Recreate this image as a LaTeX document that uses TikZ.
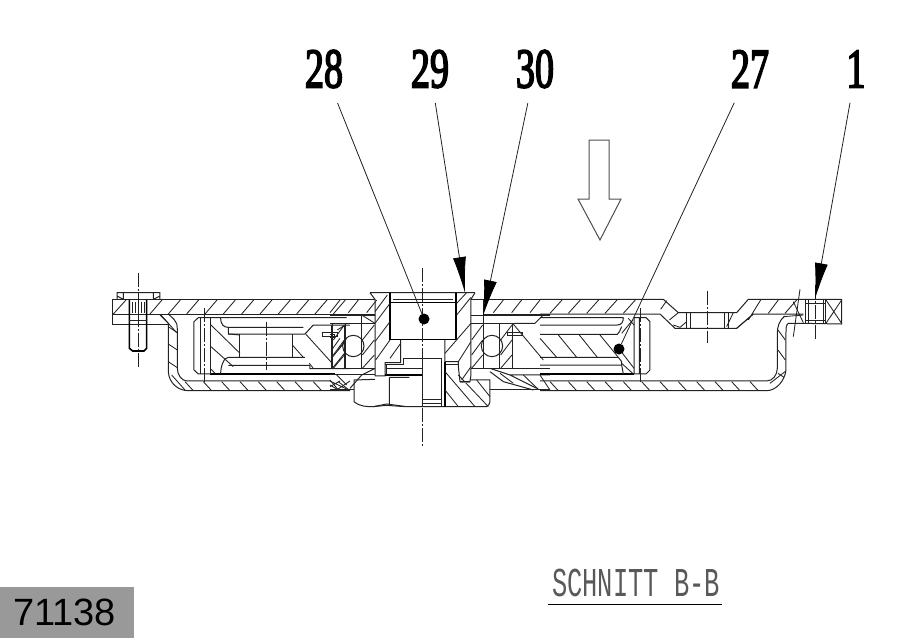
\documentclass[tikz,border=0pt]{standalone}
\usepackage{fontspec}
\usepackage{graphicx}
\usetikzlibrary{arrows.meta}
\newfontfamily\numfont[FakeBold=3.5]{Liberation Serif}
\newfontfamily\monofont{Liberation Mono}
\setmainfont{Liberation Sans}
\definecolor{ink}{HTML}{222222}
\tikzset{
 ln/.style={draw=ink,line width=1pt},
 thk/.style={draw=black,line width=1.6pt},
 hat/.style={draw=ink,line width=.85pt},
 cl/.style={draw=ink,line width=.7pt,dash pattern=on 14pt off 2pt on 2pt off 2pt},
 partno/.style={inner xsep=0pt,inner ysep=15pt,font=\numfont\fontsize{56}{56}\selectfont},
 lead/.style={draw=ink,line width=.8pt},
 leadarrow/.style={lead,-{Latex[length=36pt,width=13pt,black]}},
 dotnode/.style={circle,fill=black,inner sep=0pt,minimum size=11pt},
}
\begin{document}
\begin{tikzpicture}[x=1pt,y=-1pt]
\useasboundingbox (0,0) rectangle (909,638);
% LEFT PART
\begin{scope}[shift={(100,270)},x=.3333pt,y=-.3333pt]
 \draw[ln] (36,88)--(750,88) (36,132)--(750,132) (36,88)--(36,162)--(205,162);
 \draw[ln] (51,88)--(51,68)--(180,68)--(180,88) (51,78)--(70,88) (180,78)--(160,88) (70,68)--(70,88) (160,68)--(160,88);
 \draw[thk] (88,90)--(88,235)--(98,243)--(132,243)--(140,235)--(140,90);
 \draw[ln] (88,150)--(140,150);
 \foreach \x in {96,105,114,123,132} \draw[hat] (\x,95)--(\x,130);
 \draw[hat] (40,132)--(78,90);
 \draw[cl] (114,8)--(114,292);
 \foreach \x in {150,205,260,315,370,425,480,535,590,645,700} \draw[hat] (\x,132)--(\x+36,90);
 % tray wall
 \draw[ln] (180,135)--(205,160)--(205,305) .. controls (207,340) and (235,362) .. (265,362)--(750,362);
 \draw[ln] (205,132)--(222,148) .. controls (230,155) and (232,165) .. (232,180)--(232,295) .. controls (232,315) and (245,333) .. (262,333)--(690,333);
 \foreach \y in {170,222,275} \draw[hat] (205,\y)--(232,\y+18);
 \draw[hat] (183,135)--(230,188) (215,315)--(255,360);
 \foreach \x in {255,310,365,420,475,530,585,640} \draw[hat] (\x,335)--(\x+24,361);
 \draw[hat] (690,345)--(715,360) (715,335)--(750,362);
 % shell
 \draw[ln] (282,155)--(295,143)--(740,143) (282,155)--(282,300)--(295,312)--(705,312);
 \draw[thk] (330,312)--(705,312);
 \draw[ln] (302,143)--(302,312) (332,143)--(332,312);
 \draw[cl] (312,115)--(312,342);
 \draw[hat] (333,165)--(420,250) (333,230)--(400,290) (333,298)--(345,310);
 \draw[ln] (362,143) .. controls (362,165) and (372,172) .. (385,172)--(610,172) (385,192)--(615,192) (385,262)--(615,262) (385,286)--(630,286) (362,312) .. controls (362,288) and (372,262) .. (385,262);
 \draw[ln] (385,172)--(385,192) .. controls (400,192) and (410,195) .. (420,195);
 \draw[ln] (420,192)--(420,262) (577,192)--(577,262);
 \draw[cl] (498,155)--(498,300);
 \draw[hat] (577,225)--(610,262) (617,192)--(695,278) (628,280)--(640,295);
 \draw[ln] (615,192)--(640,165)--(750,165) (630,286)--(630,296)--(750,296);
 \draw[ln] (668,188)--(712,188)--(712,198)--(668,198)--cycle (695,165)--(695,296) (735,165)--(735,296);
 \foreach \x in {670,690} \draw[hat] (\x+25,240)--(\x+50,205);
 \draw[hat] (697,262)--(735,215) (697,295)--(735,248) (712,180)--(735,165);
 \draw[hat] (690,333)--(750,362) (690,350)--(720,333) (710,360)--(750,333);
\end{scope}
% CENTRE
\begin{scope}[shift={(330,260)},x=.3333pt,y=-.3333pt]
 \draw[ln] (120,98)--(435,98) (120,98)--(135,118)--(135,348)--(165,348)--(165,308)--(212,308)--(212,238);
 \draw[ln] (435,98)--(423,118)--(423,345)--(420,365)--(390,365)--(385,320)--(385,305)--(345,305)--(345,238);
 \draw[ln] (423,118)--(460,118);
 \draw[thk] (180,98)--(180,238)--(378,238)--(378,98);
 \draw[ln] (188,118)--(368,118);
 \draw[thk] (180,128)--(378,128);
 \foreach \a/\b/\c/\d in {135/190/180/130, 135/245/180/185, 137/300/180/240, 180/295/212/250, 380/165/423/112, 345/280/423/190, 385/305/423/245, 395/360/423/320}
  \draw[hat] (\a,\b)--(\c,\d);
 \draw[hat] (135,155)--(172,105) (380,130)--(410,98);
 \draw[ln] (220,295)--(335,295) (220,295)--(220,315)--(165,315) (172,325)--(278,325);
 \draw[thk] (165,345)--(278,345);
 \draw[ln] (170,315)--(170,345);
 \draw[ln] (345,315)--(385,315);
 % nut
 \draw[ln] (72,360)--(135,358) (178,352)--(238,352) (72,360)--(72,425) .. controls (90,440) and (110,440) .. (130,440)--(170,432)--(230,440)--(470,440) .. controls (476,436) and (480,430) .. (480,425)--(480,360)--(420,360);
 \draw[ln] (178,352)--(178,435) (130,440)--(170,436)--(225,440);
 \draw[ln] (278,295)--(278,440) (335,295)--(335,440);
 \draw[thk] (345,305)--(345,440);
 \draw[ln] (278,420)--(335,420) (278,432)--(335,432);
 \foreach \a/\b/\c/\d in {345/390/385/440, 345/335/435/440, 385/345/475/440, 440/360/480/410} \draw[hat] (\a,\b)--(\c,\d);
 \draw[line width=1.2pt,draw=gray] (390,368)--(420,368);
 % bearings
 \draw[ln] (70,258) circle (32);
 \draw[ln] (486,258) circle (32);
 \draw[ln] (0,165)--(135,165) (0,190)--(135,190) (0,325)--(135,325) (423,165)--(660,165) (423,190)--(615,190) (423,325)--(660,325);
 \draw[ln] (95,165)--(95,325) (8,190)--(8,325) (45,190)--(45,325) (460,118)--(460,325) (510,190)--(510,325) (548,190)--(548,325);
 \foreach \a/\b/\c/\d in {97/240/133/195, 97/285/133/240, 97/325/133/285, 10/240/43/195, 10/285/43/240, 10/325/43/285, 425/240/458/195, 425/285/458/240, 425/325/458/285, 512/240/546/195, 512/285/546/240, 512/325/546/285, 95/165/135/190}
  \draw[hat] (\a,\b)--(\c,\d);
 \draw[ln] (533,216)--(577,216)--(577,226)--(533,226)--cycle;
 \draw[ln] (0,222)--(14,222)--(14,232)--(0,232);
 \draw[hat] (548,190)--(640,300) (553,190)--(615,190)--(640,165);
 % plate ends
 \draw[ln] (0,118)--(135,118) (0,162)--(135,162) (460,118)--(660,118) (460,162)--(660,162);
 \foreach \x in {0,55,110} \draw[hat] (\x,158)--(\x+30,120);
 \foreach \x in {490,545,600} \draw[hat] (\x,158)--(\x+30,120);
 % lower tray around nut
 \draw[ln] (0,390)--(72,390) (480,390)--(660,390) (0,345)--(135,345);
 \draw[ln] (480,335)--(520,365)--(610,390) (480,325)--(540,345)--(660,345) (135,325)--(95,345)--(60,385) (540,345)--(620,385);
 \draw[hat] (0,360)--(25,390) (20,345)--(50,375) (510,340)--(550,370) (580,345)--(625,388) (630,345)--(660,390);
 \draw[cl] (277,25)--(277,565);
\end{scope}
% RIGHT PART
\begin{scope}[shift={(540,270)},x=.3333pt,y=-.3333pt]
 \draw[ln] (0,88)--(370,88)--(415,128)--(590,128)--(625,88)--(905,88)--(905,162)--(790,160)--(745,160) .. controls (738,165) and (738,175) .. (738,190)--(738,300) .. controls (735,330) and (710,362) .. (680,362)--(0,362);
 \draw[ln] (0,132)--(360,132)--(405,175)--(590,175)--(640,132)--(790,132);
 \draw[ln] (735,138) .. controls (718,150) and (712,170) .. (712,190)--(712,295) .. controls (712,315) and (698,333) .. (680,333)--(0,333);
 \foreach \x in {30,85,140,195,250} \draw[hat] (\x,130)--(\x+36,90);
 \foreach \x in {685} \draw[hat] (\x,130)--(\x+30,90);
 \draw[hat] (625,150)--(662,90) (590,175)--(640,132) (388,150)--(415,128) (400,165)--(420,172) (362,118)--(380,92) (560,170)--(580,128) (735,130)--(770,90) (760,95)--(790,158) (730,140)--(790,135);
 \foreach \x in {440,452,555,565} \draw[ln] (\x,128)--(\x,175);
 \draw[hat] (420,172)--(440,155);
 \foreach \y in {180,240} \draw[hat] (714,\y)--(736,\y+30);
 \draw[hat] (690,340)--(735,305) (714,310)--(732,322);
 \foreach \x in {30,85,140,195,250,305,360,415,470,525,575,630} \draw[hat] (\x,335)--(\x+24,361);
 \draw[ln] (798,88)--(798,160)--(858,160)--(858,88) (805,90)--(805,158) (852,90)--(852,158) (798,100)--(858,100) (798,152)--(858,152);
 \draw[hat] (858,90)--(905,160) (858,160)--(905,90);
 \draw[hat] (780,58)--(760,200);
 \draw[cl] (825,45)--(825,210);
 \draw[cl] (502,62)--(502,220);
 % shell
 \draw[ln] (282,143)--(318,143)--(330,155)--(330,300)--(318,312)--(282,312)--(282,143) (298,143)--(298,312);
 \draw[cl] (302,115)--(302,342);
 \draw[thk] (0,312)--(282,312);
 \draw[ln] (0,143)--(250,143) (0,165)--(232,165) (232,165) .. controls (245,165) and (250,155) .. (250,143) (0,193)--(232,193) .. controls (238,190) and (240,180) .. (245,170) (0,262)--(235,262)--(245,275)--(245,285) (0,285)--(245,285) (245,285)--(250,312);
 \foreach \a/\b/\c/\d in {0/205/50/262, 55/195/110/262, 118/195/172/262, 180/195/235/262, 240/240/282/295, 245/280/280/312, 245/190/278/150, 265/145/282/165}
  \draw[hat] (\a,\b)--(\c,\d);
\end{scope}
% block arrow
\draw[draw=ink!80,line width=1pt] (589,140)--(609,140)--(609,199)--(621,199)--(600,240)--(578,199)--(589,199)--cycle;
% labels and leaders
\node[partno] (l28) at (324,69) {\scalebox{.68}[1]{28}};
\node[partno] (l29) at (430,69) {\scalebox{.68}[1]{29}};
\node[partno] (l30) at (535,69) {\scalebox{.68}[1]{30}};
\node[partno] (l27) at (750,69) {\scalebox{.68}[1]{27}};
\node[partno] (l1) at (856,69) {\scalebox{.68}[1]{1}};
\node[dotnode] (d28) at (424,319) {};
\node[dotnode] (d27) at (619,349) {};
\coordinate (t29) at (465,293);
\coordinate (t30) at (483,316);
\coordinate (t1) at (815,299);
\draw[lead] (l28)--(d28);
\draw[lead] (l27)--(d27);
\draw[leadarrow] (l29)--(t29);
\draw[leadarrow] (l30)--(t30);
\draw[leadarrow] (l1)--(t1);
% captions
\node[inner sep=0pt,text=black!65,font=\monofont\fontsize{41}{41}\selectfont] (cap) at (636,583) {\scalebox{.62}[1]{SCHNITT B-B}};
\coordinate (ca) at (548,604);
\coordinate (cb) at (722,604);
\draw[draw=black,line width=1pt] (ca)--(cb);
\node[fill=black!40,minimum width=134pt,minimum height=51pt,inner sep=0pt,anchor=north west,font=\fontsize{38}{38}\selectfont,text=black] (tag) at (0,587) {\hspace*{-5pt}71138};
\end{tikzpicture}
\end{document}
